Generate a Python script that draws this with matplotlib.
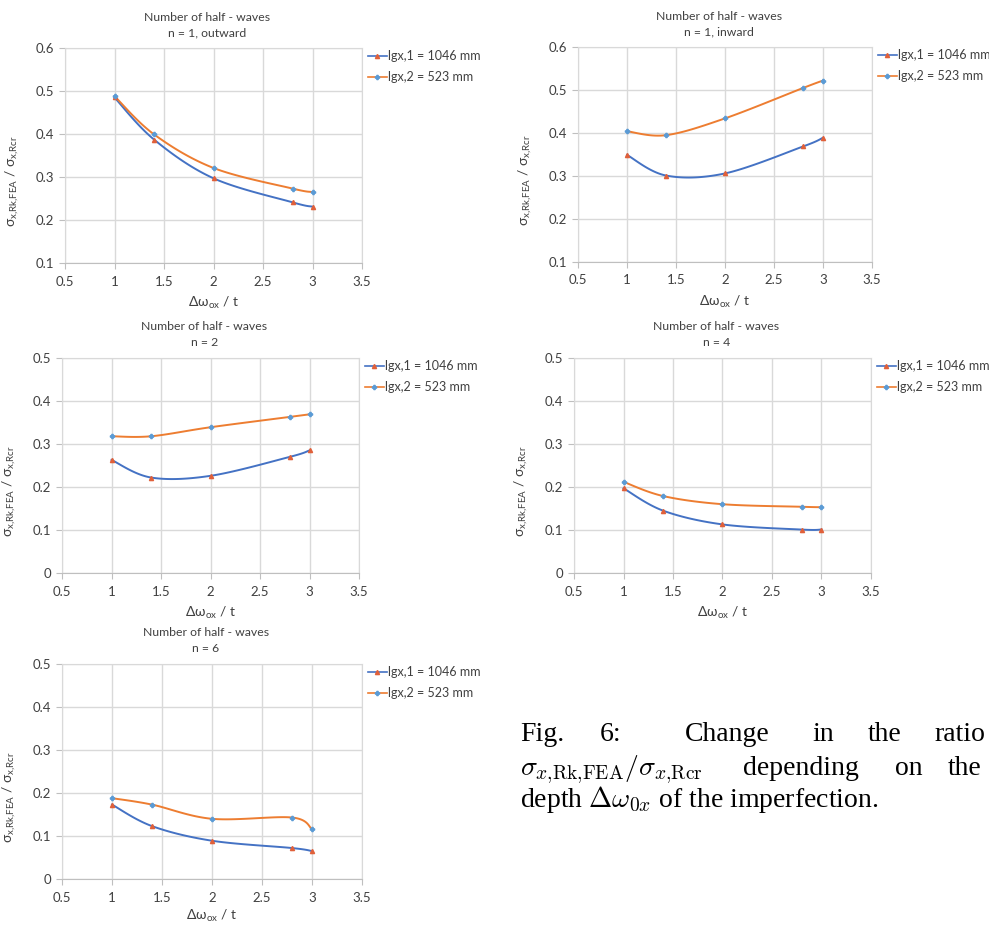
import numpy as np
import matplotlib
matplotlib.use('Agg')
import matplotlib.pyplot as plt
from matplotlib.lines import Line2D

plt.rcParams['font.family'] = ['Lato', 'DejaVu Sans']

# imperfection depth over thickness
dw = [1.0, 1.4, 2.0, 2.8, 3.0]

# sigma_Rk,FEA / sigma_Rcr for the two buckle lengths
out_1046 = [0.485, 0.387, 0.297, 0.241, 0.231]
out_523 = [0.488, 0.399, 0.321, 0.273, 0.265]
in_1046 = [0.349, 0.301, 0.306, 0.369, 0.389]
in_523 = [0.404, 0.395, 0.434, 0.505, 0.522]
n2_1046 = [0.263, 0.222, 0.226, 0.270, 0.285]
n2_523 = [0.318, 0.318, 0.339, 0.363, 0.369]
n4_1046 = [0.197, 0.145, 0.113, 0.101, 0.101]
n4_523 = [0.212, 0.179, 0.160, 0.154, 0.153]
n6_1046 = [0.173, 0.123, 0.089, 0.072, 0.065]
n6_523 = [0.188, 0.173, 0.140, 0.143, 0.116]

titles = ['n = 1, outward', 'n = 1, inward', 'n = 2', 'n = 4', 'n = 6']
labels = ['lgx,1 = 1046 mm', 'lgx,2 = 523 mm']

BLUE = '#4472C4'
ORANGE = '#ED7D31'
BLUE_MK = '#5B9BD5'
RED_MK = '#E0603A'
GRID = '#D9D9D9'
TXT = '#404040'


def smooth(x, y, n=30):
    # spreadsheet-style smoothed line: cubic bezier through the points
    p = np.column_stack([x, y]).astype(float)
    pts = []
    for i in range(len(p) - 1):
        p0 = p[i - 1] if i > 0 else p[i]
        p1, p2 = p[i], p[i + 1]
        p3 = p[i + 2] if i + 2 < len(p) else p[i + 1]
        c1 = p1 + (p2 - p0) / 6.0
        c2 = p2 - (p3 - p1) / 6.0
        t = np.linspace(0, 1, n)[:, None]
        seg = (1 - t)**3 * p1 + 3 * (1 - t)**2 * t * c1 + 3 * (1 - t) * t**2 * c2 + t**3 * p2
        pts.append(seg if i == 0 else seg[1:])
    pts = np.vstack(pts)
    return pts[:, 0], pts[:, 1]


fig = plt.figure(figsize=(9.89, 9.26), dpi=100)
W, H = 989.0, 926.0

# axes boxes in pixels: left, top, right, bottom
boxes = [(65, 48, 362, 263), (578, 47, 872, 262),
         (62, 358, 359, 573), (574, 358, 871, 573),
         (62, 664, 362, 879)]
series = [(out_1046, out_523), (in_1046, in_523), (n2_1046, n2_523),
          (n4_1046, n4_523), (n6_1046, n6_523)]

for k, (box, (s1, s2), ttl) in enumerate(zip(boxes, series, titles)):
    l, t, r, b = box
    ax = fig.add_axes([l / W, 1 - b / H, (r - l) / W, (b - t) / H])

    x1, y1 = smooth(dw, s1)
    x2, y2 = smooth(dw, s2)
    ax.plot(x1, y1, color=BLUE, lw=1.4, zorder=3)
    ax.plot(x2, y2, color=ORANGE, lw=1.4, zorder=3)
    ax.plot(dw, s1, ls='none', marker='^', ms=3, color=RED_MK, zorder=4)
    ax.plot(dw, s2, ls='none', marker='P', ms=3, color=BLUE_MK, zorder=4)

    ax.set_xlim(0.5, 3.5)
    ax.set_xticks(np.arange(0.5, 3.51, 0.5))
    ax.set_xticklabels(['0.5', '1', '1.5', '2', '2.5', '3', '3.5'])
    if k < 2:
        ax.set_ylim(0.1, 0.6)
        ax.set_yticks(np.arange(0.1, 0.61, 0.1))
        ax.set_yticklabels(['0.1', '0.2', '0.3', '0.4', '0.5', '0.6'])
    else:
        ax.set_ylim(0, 0.5)
        ax.set_yticks(np.arange(0, 0.51, 0.1))
        ax.set_yticklabels(['0', '0.1', '0.2', '0.3', '0.4', '0.5'])

    ax.grid(True, color=GRID, lw=1)
    ax.set_axisbelow(True)
    for sp in ax.spines.values():
        sp.set_color(GRID)
    ax.spines['bottom'].set_color('#BFBFBF')
    ax.tick_params(axis='both', length=4, color='#BFBFBF', labelsize=9.5,
                   labelcolor=TXT)
    ax.tick_params(axis='x', pad=5)
    ax.tick_params(axis='y', pad=4)

    ax.set_xlabel(r'Δω$_\mathregular{ox}$ / t', fontsize=10, color=TXT,
                  labelpad=3 if k == 4 else 5)
    ax.set_ylabel(r'σ$_\mathregular{x{,}Rk{,}FEA}$ / σ$_\mathregular{x{,}Rcr}$', fontsize=10,
                  color=TXT)
    ax.yaxis.set_label_coords(-44.0 / (r - l), 0.38)
    ax.text(0.48, 1.0 + 31 / (b - t), 'Number of half - waves', transform=ax.transAxes,
            ha='center', va='center', fontsize=8.8, color=TXT)
    ax.text(0.48, 1.0 + 15 / (b - t), ttl, transform=ax.transAxes,
            ha='center', va='center', fontsize=8.8, color=TXT)

    handles = [Line2D([], [], color=BLUE, lw=1.2, marker='^', ms=3, mfc=RED_MK, mec=RED_MK),
               Line2D([], [], color=ORANGE, lw=1.2, marker='P', ms=3, mfc=BLUE_MK, mec=BLUE_MK)]
    ax.legend(handles, labels, loc='upper left', bbox_to_anchor=(1.02, 0.99),
              frameon=False, fontsize=9, handlelength=1.5, handletextpad=0.1,
              labelspacing=0.7, borderpad=0, borderaxespad=0, labelcolor=TXT)

# figure caption, laid out word by word like justified text
cap = dict(fontsize=20, family='Liberation Serif', math_fontfamily='cm', va='baseline')
line1 = [('Fig.', 520), ('6:', 600), ('Change', 685), ('in', 812), ('the', 868), ('ratio', 934)]
line2 = [(r'$\sigma_{x{,}\mathrm{Rk{,}FEA}}/\sigma_{x{,}\mathrm{Rcr}}$', 520), ('depending', 743),
         ('on', 895), ('the', 948)]
for word, px in line1:
    fig.text(px / W, 1 - 741 / H, word, **cap)
for word, px in line2:
    fig.text(px / W, 1 - 775 / H, word, **cap)
fig.text(520 / W, 1 - 807 / H, r'depth $\Delta\omega_{0x}$ of the imperfection.', **cap)

plt.savefig('out.png', dpi=100)
